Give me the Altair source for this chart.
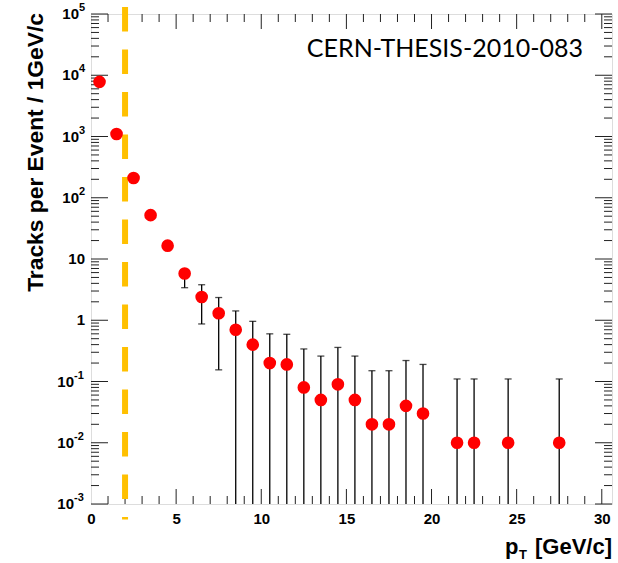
import altair as alt
import pandas as pd

# Track multiplicity per event vs transverse momentum (1 GeV/c bins)
pt = [0.5, 1.5, 2.5, 3.5, 4.5, 5.5, 6.5, 7.5, 8.5, 9.5, 10.5, 11.5,
      12.5, 13.5, 14.5, 15.5, 16.5, 17.5, 18.5, 19.5, 21.5, 22.5, 24.5, 27.5]
tracks = [7800, 1100, 210, 52, 16.5, 5.8, 2.4, 1.3, 0.7, 0.4, 0.2, 0.19,
          0.08, 0.05, 0.09, 0.05, 0.02, 0.02, 0.04, 0.03, 0.01, 0.01, 0.01, 0.01]
err_hi = [8100, 1150, 225, 56, 18, 6.6, 3.8, 2.35, 1.42, 0.96, 0.6, 0.59,
          0.34, 0.26, 0.36, 0.26, 0.15, 0.15, 0.22, 0.19, 0.11, 0.11, 0.11, 0.11]
# bars that run past the bottom of the axis are cut at its minimum (1e-3)
err_lo = [7500, 1050, 195, 48, 15, 3.4, 0.87, 0.155, 0.001, 0.001, 0.001, 0.001,
          0.001, 0.001, 0.001, 0.001, 0.001, 0.001, 0.001, 0.001, 0.001, 0.001, 0.001, 0.001]

# pT threshold marker
cut_pt = [2.0]

# axis ranges and tick positions
x_range = [0, 30.6]
y_range = [1e-3, 1e5]
x_labels = [0, 5, 10, 15, 20, 25, 30]
x_minor = [v for v in range(1, 31) if v % 5 != 0]
x_major = [5, 10, 15, 20, 25, 30]
y_exp = [-3, -2, -1, 0, 1, 2, 3, 4, 5]
y_major = [10.0 ** e for e in y_exp]
y_minor = [m * 10.0 ** e for e in y_exp[:-1] for m in range(2, 10)]

W, H = 521, 490
FONT = "Liberation Sans"

df = pd.DataFrame({"pt": pt, "tracks": tracks, "hi": err_hi, "lo": err_lo})
df_lo_caps = df[df["lo"] > y_range[0]]

xs = alt.Scale(domain=x_range, nice=False, zero=False)
ys = alt.Scale(type="log", domain=y_range, nice=False)
x_axis = alt.Axis(values=x_labels, title=None, ticks=False, domain=False, grid=False,
                  labelFont=FONT, labelFontWeight="bold", labelFontSize=15,
                  labelColor="#000", labelPadding=7, labelFlush=False,
                  labelOverlap=False)

def X(field):
    return alt.X(f"{field}:Q", scale=xs, axis=x_axis)

def Y(field):
    return alt.Y(f"{field}:Q", scale=ys, axis=None)

# inward tick marks on all four sides
def yticks(values, length):
    d = pd.DataFrame({"v": values})
    left = alt.Chart(d).mark_rule(color="#222", strokeWidth=1).encode(
        y=Y("v"), x=alt.value(0), x2=alt.value(length))
    right = alt.Chart(d).mark_rule(color="#222", strokeWidth=1).encode(
        y=Y("v"), x=alt.value(W), x2=alt.value(W - length))
    return left + right

def xticks(values, length):
    d = pd.DataFrame({"v": values})
    bottom = alt.Chart(d).mark_rule(color="#222", strokeWidth=1).encode(
        x=X("v"), y=alt.value(H), y2=alt.value(H - length))
    top = alt.Chart(d).mark_rule(color="#222", strokeWidth=1).encode(
        x=X("v"), y=alt.value(0), y2=alt.value(length))
    return bottom + top

ticks = yticks(y_major, 17) + yticks(y_minor, 8) + xticks(x_major, 15) + xticks(x_minor, 8)

# y tick labels written as 10 with a raised exponent
lab_plain = pd.DataFrame({"v": [1.0, 10.0], "t": ["1", "10"]})
lab_pos = pd.DataFrame({"v": [10.0 ** e for e in [2, 3, 4, 5]], "e": ["2", "3", "4", "5"]})
lab_neg = pd.DataFrame({"v": [10.0 ** e for e in [-3, -2, -1]], "e": ["-3", "-2", "-1"]})

def label_text(d, text, x, align, size, dy=0):
    return alt.Chart(d).mark_text(font=FONT, fontWeight="bold", fontSize=size, color="#000",
                                  align=align, baseline="middle", dy=dy).encode(
        y=Y("v"), x=alt.value(x), text=alt.Text(text))

lab_pos = lab_pos.assign(b="10")
lab_neg = lab_neg.assign(b="10")
ylabels = (label_text(lab_plain, "t:N", -6, "right", 15)
           + label_text(lab_pos, "b:N", -12, "right", 15)
           + label_text(lab_pos, "e:N", -12, "left", 11, dy=-6)
           + label_text(lab_neg, "b:N", -17, "right", 15)
           + label_text(lab_neg, "e:N", -17, "left", 11, dy=-6))

cut = alt.Chart(pd.DataFrame({"pt": cut_pt})).mark_rule(
    color="#FFC000", strokeWidth=6, strokeDash=[24.5, 18]).encode(
    x=X("pt"), y=alt.value(-7), y2=alt.value(H + 15.5))

bars = alt.Chart(df).mark_rule(color="#000", strokeWidth=1.3).encode(
    x=X("pt"), y=Y("lo"), y2=alt.Y2("hi"))
caps_hi = alt.Chart(df).mark_tick(color="#000", thickness=1.3, size=7,
                                  orient="horizontal").encode(x=X("pt"), y=Y("hi"))
caps_lo = alt.Chart(df_lo_caps).mark_tick(color="#000", thickness=1.3, size=7,
                                          orient="horizontal").encode(x=X("pt"), y=Y("lo"))
points = alt.Chart(df).mark_circle(color="#FF0000", opacity=1, size=160).encode(
    x=X("pt"), y=Y("tracks"))

def free_text(text, x, y, size, weight="bold", font=FONT, align="left", angle=0):
    return alt.Chart(pd.DataFrame({"t": [text]})).mark_text(
        font=font, fontWeight=weight, fontSize=size, color="#000", align=align,
        baseline="alphabetic", angle=angle).encode(
        x=alt.value(x), y=alt.value(y), text="t:N")

titles = (free_text("Tracks per Event / 1GeV/c", -48, -1, 22.8, align="right", angle=270)
          + free_text("p", 414, 540, 22)
          + free_text("T", 428, 545, 13)
          + free_text("[GeV/c]", 521, 540, 22, align="right")
          + free_text("CERN-THESIS-2010-083", 492, 43, 25, weight="normal",
                      font="Lato", align="right"))

chart = alt.layer(ticks, cut, bars, caps_hi, caps_lo, points, ylabels, titles).properties(
    width=W, height=H,
    autosize=alt.AutoSizeParams(type="none"),
    padding={"left": 91, "top": 14, "right": 6, "bottom": 59},
).configure_view(stroke="#111", strokeWidth=1.4).configure(background="white")

chart.save("out.html", embed_options={"renderer": "svg", "actions": False})
